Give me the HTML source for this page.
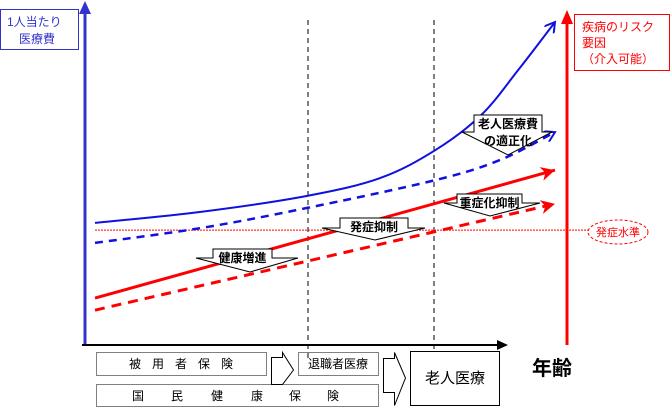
<!DOCTYPE html>
<html><head><meta charset="utf-8"><style>
body{margin:0;background:#fff}
svg{display:block;font-family:"Liberation Sans","Noto Sans CJK JP",sans-serif}
</style></head><body>
<svg id="c" width="671" height="408" viewBox="0 0 671 408">
<defs>
<marker id="ab" markerWidth="12" markerHeight="12" refX="10" refY="6" orient="auto" markerUnits="userSpaceOnUse"><path d="M0,0 L10,6 L0,12" fill="none" stroke="#1010e0" stroke-width="2"/></marker>
<marker id="ar" markerWidth="16" markerHeight="14" refX="14" refY="7" orient="auto" markerUnits="userSpaceOnUse"><path d="M0,0 L14,7 L0,14 L4,7Z" fill="#f00"/></marker>
</defs>
<g>
<line x1="85" y1="345" x2="85" y2="12" stroke="#3333cc" stroke-width="3"/>
<path d="M79,14 L85,1 L91,14Z" fill="#3333cc"/>
<line x1="567" y1="345" x2="567" y2="22" stroke="#f00" stroke-width="3"/>
<path d="M561,24 L567,10 L573,24Z" fill="#f00"/>
<line x1="82" y1="345" x2="500" y2="345" stroke="#000" stroke-width="2"/>
<path d="M497,340 L508,345 L497,350Z" fill="#000"/>
<line x1="308" y1="20" x2="308" y2="362" stroke="#000" stroke-dasharray="5,4"/>
<line x1="434" y1="20" x2="434" y2="362" stroke="#000" stroke-dasharray="5,4"/>
</g>
<g>
<rect x="0.5" y="9.5" width="78" height="40" fill="#fff" stroke="#3333cc" stroke-width="1"/>
<text x="7" y="26" font-size="12" fill="#3333cc">1人当たり</text>
<text x="19" y="43" font-size="12" fill="#3333cc">医療費</text>
</g>
<g>
<rect x="574.5" y="14.5" width="95" height="56" fill="#fff" stroke="#f00"/>
<text x="582" y="31" font-size="12" fill="#f00">疾病のリスク</text>
<text x="582" y="47" font-size="12" fill="#f00">要因</text>
<text x="582" y="63" font-size="12" fill="#f00">（介入可能）</text>
</g>
<g id="series"></g>
<g>
<ellipse cx="618" cy="232" rx="30" ry="12" fill="#fff" stroke="#f00" stroke-dasharray="3,2"/>
<text x="618" y="236" font-size="11" fill="#f00" text-anchor="middle">発症水準</text>
</g>
<g id="callouts"></g>
<g>
<rect x="96.5" y="352.5" width="170" height="23" fill="none" stroke="#000" stroke-dasharray="1,1"/>
<g font-size="12" text-anchor="middle">
<text x="135" y="368">被</text><text x="158" y="368">用</text><text x="181" y="368">者</text><text x="204" y="368">保</text><text x="227" y="368">険</text>
</g>
<rect x="96.5" y="384.5" width="282" height="22" fill="none" stroke="#000" stroke-dasharray="1,1"/>
<g font-size="12" text-anchor="middle">
<text x="138" y="400">国</text><text x="177" y="400">民</text><text x="217" y="400">健</text><text x="257" y="400">康</text><text x="295" y="400">保</text><text x="333" y="400">険</text>
</g>
<path d="M271.5,357.5 H282.5 V352.5 L293.5,370 L282.5,384.5 H271.5Z" fill="#fff" stroke="#000"/>
<rect x="298.5" y="352.5" width="80" height="23" fill="none" stroke="#000" stroke-dasharray="1,1"/>
<text x="338" y="368" font-size="12" text-anchor="middle">退職者医療</text>
<path d="M383.5,358.5 H394.5 V352.5 L405.5,378 L394.5,405.5 V392.5 H383.5Z" fill="#fff" stroke="#000"/>
<rect x="410.5" y="351.5" width="89" height="54" fill="#fff" stroke="#000"/>
<text x="455" y="383" font-size="15" text-anchor="middle">老人医療</text>
<text x="532" y="375" font-size="20" font-weight="bold">年齢</text>
</g>
</svg>
<script>
const ages=[0,23,46,62,74,84,92,100];
const costBase=[35.4,38.6,43.2,48.4,56.5,66.7,79.7,93.6];
const agesB=[0,23,46,74,88,100];
const costOptimized=[29.6,33.9,39.7,47.8,53.6,61.7];
const agesR=[0,100];
const riskBase=[13.6,50.7];
const riskPrevent=[10.1,40.9];
const threshold=33.3;
const xs=a=>95+a*4.6, ys=v=>345-v*3.45;
const NS='http://www.w3.org/2000/svg';
const g=document.getElementById('series');
function path(ax,vals){
  const p=ax.map((a,i)=>[xs(a),ys(vals[i])]);
  let d='M'+p[0][0]+','+p[0][1];
  for(let i=0;i<p.length-1;i++){
    const p0=p[i-1]||p[i],p1=p[i],p2=p[i+1],p3=p[i+2]||p2;
    d+=' C'+(p1[0]+(p2[0]-p0[0])/6)+','+(p1[1]+(p2[1]-p0[1])/6)+' '+(p2[0]-(p3[0]-p1[0])/6)+','+(p2[1]-(p3[1]-p1[1])/6)+' '+p2[0]+','+p2[1];
  }
  return d;
}
function add(d,stroke,w,dash,mk){
  const e=document.createElementNS(NS,'path');
  e.setAttribute('d',d);e.setAttribute('fill','none');e.setAttribute('stroke',stroke);
  e.setAttribute('stroke-width',w);if(dash)e.setAttribute('stroke-dasharray',dash);
  if(mk)e.setAttribute('marker-end','url(#'+mk+')');
  g.appendChild(e);return e;
}
let t=document.createElementNS(NS,'line');
t.setAttribute('x1',95);t.setAttribute('x2',588);t.setAttribute('y1',ys(threshold));t.setAttribute('y2',ys(threshold));
t.setAttribute('stroke','#f00');t.setAttribute('stroke-dasharray','2,1');


g.appendChild(t);
let e;
e=add(path(ages,costBase),'#1010e0',2,null,'ab');


e=add(path(agesB,costOptimized),'#1010e0',2.5,'8,6','ab');


e=add(path(agesR,riskBase),'#f00',3,null,'ar');


e=add(path(agesR,riskPrevent),'#f00',3,'10,7','ar');


const cg=document.getElementById('callouts');
function callout(name,bx1,bx2,by,wy,wx1,wx2,px,py,lines){
  const p=document.createElementNS(NS,'path');
  p.setAttribute('d',`M${bx1},${by} H${bx2} V${wy} H${wx2} L${px},${py} L${wx1},${wy} H${bx1}Z`);
  p.setAttribute('fill','#fff');p.setAttribute('stroke','#000');
  
  
  cg.appendChild(p);
  lines.forEach((s,i)=>{const tx=document.createElementNS(NS,'text');
    tx.setAttribute('x',(bx1+bx2)/2);tx.setAttribute('y',by+13+i*17);tx.setAttribute('text-anchor','middle');
    tx.setAttribute('font-size','12');tx.setAttribute('font-weight','bold');tx.textContent=s;cg.appendChild(tx);});
}
callout('health-promotion-callout',213,272,249,258,196,298,250,272,['健康増進']);
callout('onset-prevention-callout',340,408,218,228,322,425,375,240,['発症抑制']);
callout('severity-prevention-callout',457,522,194,203,444,540,490,216,['重症化抑制']);
callout('cost-optimization-callout',474,542,115,132,462,552,508,155,['老人医療費','の適正化']);
</script>
</body></html>
